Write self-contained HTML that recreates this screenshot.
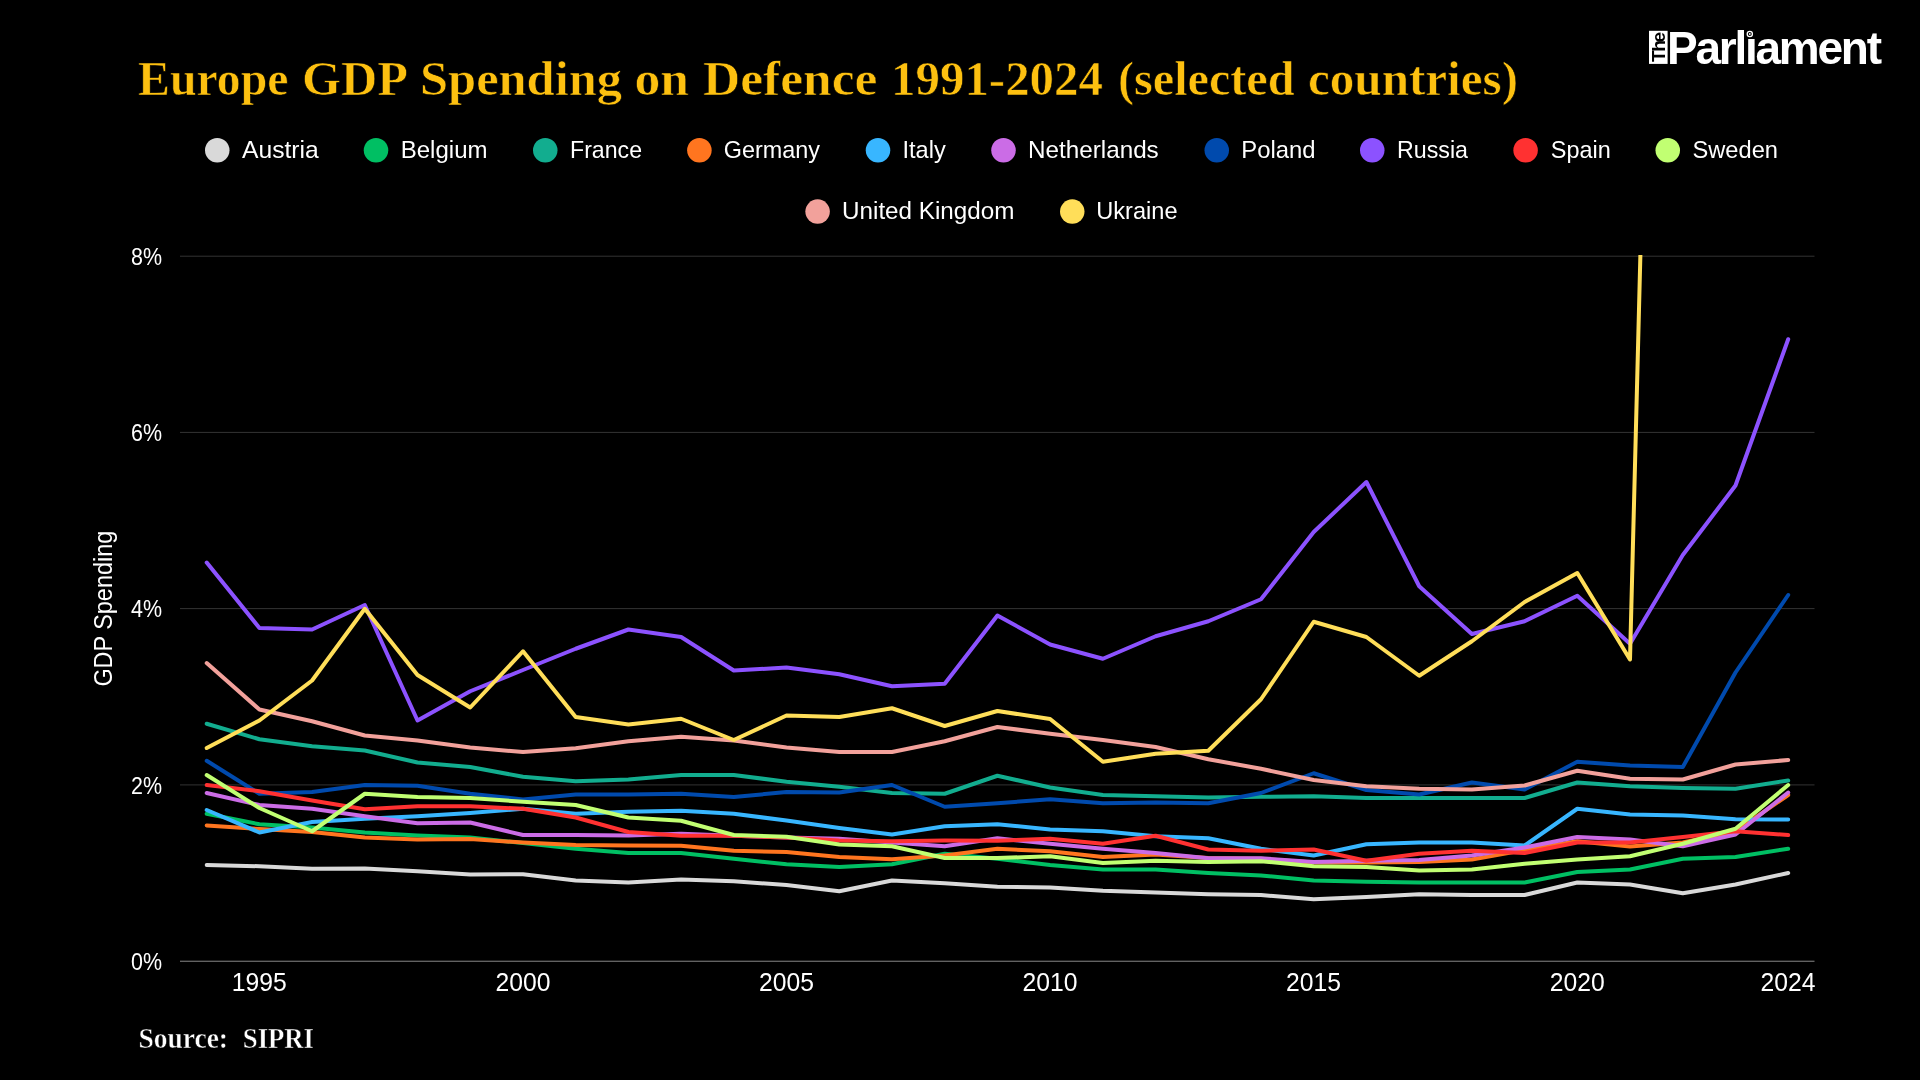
<!DOCTYPE html>
<html lang="en"><head><meta charset="utf-8"><title>Europe GDP Spending on Defence 1991-2024</title>
<style>
html,body{margin:0;padding:0;background:#000;}
body{width:1920px;height:1080px;overflow:hidden;}
svg{display:block;will-change:transform;}
.sans{font-family:"Liberation Sans",sans-serif;fill:#fff;}
.serif{font-family:"Liberation Serif",serif;}
</style></head><body>
<svg width="1920" height="1080" viewBox="0 0 1920 1080">
<defs><clipPath id="plot"><rect x="170" y="255" width="1660" height="720"/></clipPath></defs>
<g class="serif" font-size="47.5" font-weight="bold" fill="#FDC010" stroke="#000" stroke-width="0.6"><text x="138" y="94.6" textLength="150.50" lengthAdjust="spacingAndGlyphs">Europe</text><text x="302" y="94.6" textLength="106.00" lengthAdjust="spacingAndGlyphs">GDP</text><text x="420" y="94.6" textLength="202.00" lengthAdjust="spacingAndGlyphs">Spending</text><text x="634.5" y="94.6" textLength="54.55" lengthAdjust="spacingAndGlyphs">on</text><text x="703" y="94.6" textLength="174.45" lengthAdjust="spacingAndGlyphs">Defence</text><text x="891" y="94.6" textLength="212.00" lengthAdjust="spacingAndGlyphs">1991-2024</text><text x="1118" y="94.6" textLength="176.55" lengthAdjust="spacingAndGlyphs">(selected</text><text x="1308" y="94.6" textLength="210.00" lengthAdjust="spacingAndGlyphs">countries)</text></g>
<g font-family="Liberation Sans, sans-serif" font-weight="bold">
<rect x="1649" y="30.8" width="18.6" height="33.1" fill="#fff"/>
<text transform="translate(1665.2,61.9) rotate(-90)" font-size="19.2" fill="#000" x="0 10.2 19.4">The</text>
<text x="1667" y="63.75" font-size="46" fill="#fff" textLength="215" lengthAdjust="spacing">Parliament</text>
<rect x="1745" y="28" width="10" height="9.5" fill="#000"/>
<circle cx="1749.8" cy="34" r="2.6" fill="none" stroke="#fff" stroke-width="1.3"/>
<circle cx="1749.8" cy="34" r="0.9" fill="#fff"/>
</g>
<circle cx="217.25" cy="150.25" r="12.25" fill="#D9D9D9"/><text class="sans" x="242" y="157.6" font-size="24.6" textLength="76.75" lengthAdjust="spacingAndGlyphs">Austria</text>
<circle cx="376" cy="150.25" r="12.25" fill="#00BF63"/><text class="sans" x="400.75" y="157.6" font-size="24.6" textLength="86.75" lengthAdjust="spacingAndGlyphs">Belgium</text>
<circle cx="545.25" cy="150.25" r="12.25" fill="#12AD8F"/><text class="sans" x="570" y="157.6" font-size="24.6" textLength="72.00" lengthAdjust="spacingAndGlyphs">France</text>
<circle cx="699.4" cy="150.25" r="12.25" fill="#FF751F"/><text class="sans" x="723.75" y="157.6" font-size="24.6" textLength="96.25" lengthAdjust="spacingAndGlyphs">Germany</text>
<circle cx="878" cy="150.25" r="12.25" fill="#38B6FF"/><text class="sans" x="902.5" y="157.6" font-size="24.6" textLength="43.25" lengthAdjust="spacingAndGlyphs">Italy</text>
<circle cx="1003.5" cy="150.25" r="12.25" fill="#CB6CE6"/><text class="sans" x="1028" y="157.6" font-size="24.6" textLength="130.75" lengthAdjust="spacingAndGlyphs">Netherlands</text>
<circle cx="1216.75" cy="150.25" r="12.25" fill="#004AAD"/><text class="sans" x="1241.25" y="157.6" font-size="24.6" textLength="74.25" lengthAdjust="spacingAndGlyphs">Poland</text>
<circle cx="1372.25" cy="150.25" r="12.25" fill="#8C52FF"/><text class="sans" x="1397" y="157.6" font-size="24.6" textLength="71.00" lengthAdjust="spacingAndGlyphs">Russia</text>
<circle cx="1525.6" cy="150.25" r="12.25" fill="#FF3131"/><text class="sans" x="1550.75" y="157.6" font-size="24.6" textLength="60.00" lengthAdjust="spacingAndGlyphs">Spain</text>
<circle cx="1667.75" cy="150.25" r="12.25" fill="#C1FF72"/><text class="sans" x="1692.5" y="157.6" font-size="24.6" textLength="85.50" lengthAdjust="spacingAndGlyphs">Sweden</text>
<circle cx="817.6" cy="211.6" r="12.25" fill="#F2A19B"/><text class="sans" x="842" y="218.9" font-size="24.6" textLength="172.50" lengthAdjust="spacingAndGlyphs">United Kingdom</text>
<circle cx="1072.25" cy="211.6" r="12.25" fill="#FFDE59"/><text class="sans" x="1096.25" y="218.9" font-size="24.6" textLength="81.25" lengthAdjust="spacingAndGlyphs">Ukraine</text>
<rect x="180" y="255.7" width="1634.5" height="1" fill="#333"/><rect x="180" y="431.9" width="1634.5" height="1" fill="#333"/><rect x="180" y="608.1" width="1634.5" height="1" fill="#333"/><rect x="180" y="784.4" width="1634.5" height="1" fill="#333"/><rect x="180" y="960.7" width="1634.5" height="1.1" fill="#7a7a7a"/>
<text class="sans" x="162" y="265.0" font-size="24.6" text-anchor="end" textLength="31" lengthAdjust="spacingAndGlyphs">8%</text><text class="sans" x="162" y="441.2" font-size="24.6" text-anchor="end" textLength="31" lengthAdjust="spacingAndGlyphs">6%</text><text class="sans" x="162" y="617.4" font-size="24.6" text-anchor="end" textLength="31" lengthAdjust="spacingAndGlyphs">4%</text><text class="sans" x="162" y="793.7" font-size="24.6" text-anchor="end" textLength="31" lengthAdjust="spacingAndGlyphs">2%</text><text class="sans" x="162" y="970.0" font-size="24.6" text-anchor="end" textLength="31" lengthAdjust="spacingAndGlyphs">0%</text>
<text class="sans" x="231.8" y="991.4" font-size="25" textLength="55" lengthAdjust="spacingAndGlyphs">1995</text><text class="sans" x="495.4" y="991.4" font-size="25" textLength="55" lengthAdjust="spacingAndGlyphs">2000</text><text class="sans" x="758.9" y="991.4" font-size="25" textLength="55" lengthAdjust="spacingAndGlyphs">2005</text><text class="sans" x="1022.5" y="991.4" font-size="25" textLength="55" lengthAdjust="spacingAndGlyphs">2010</text><text class="sans" x="1286.1" y="991.4" font-size="25" textLength="55" lengthAdjust="spacingAndGlyphs">2015</text><text class="sans" x="1549.7" y="991.4" font-size="25" textLength="55" lengthAdjust="spacingAndGlyphs">2020</text><text class="sans" x="1760.6" y="991.4" font-size="25" textLength="55" lengthAdjust="spacingAndGlyphs">2024</text>
<text class="sans" transform="translate(112.2,686.6) rotate(-90)" font-size="25" textLength="155.8" lengthAdjust="spacingAndGlyphs">GDP Spending</text>
<g clip-path="url(#plot)" fill="none" stroke-linejoin="round" stroke-linecap="round" stroke-width="4">
<polyline stroke="#D9D9D9" points="206.7,865 259.4,866.25 312.1,868.75 364.8,868.5 417.5,871.25 470.2,874.5 523.0,874.25 575.7,880.5 628.4,882.5 681.1,879.5 733.8,881.25 786.5,885 839.3,891.25 892.0,880.5 944.7,883.25 997.4,886.75 1050.1,887.5 1102.9,890.75 1155.6,892.5 1208.3,894.25 1261.0,895 1313.7,899.25 1366.4,897 1419.2,894.25 1471.9,895 1524.6,895 1577.3,882.5 1630.0,884.5 1682.8,893.25 1735.5,884.5 1788.2,873"/>
<polyline stroke="#00BF63" points="206.7,813.75 259.4,824.25 312.1,827.5 364.8,832.5 417.5,835.5 470.2,837.5 523.0,843 575.7,848.75 628.4,853 681.1,853 733.8,858.75 786.5,864.25 839.3,867 892.0,864.25 944.7,853.75 997.4,858.75 1050.1,865 1102.9,869.5 1155.6,869.5 1208.3,873 1261.0,875.5 1313.7,880.5 1366.4,881.75 1419.2,882.5 1471.9,882.5 1524.6,882.5 1577.3,872 1630.0,869.5 1682.8,858.75 1735.5,857 1788.2,848.75"/>
<polyline stroke="#12AD8F" points="206.7,723.75 259.4,739.25 312.1,746.25 364.8,750.5 417.5,762.5 470.2,767 523.0,776.75 575.7,781.25 628.4,779.5 681.1,775 733.8,775 786.5,781.75 839.3,786.75 892.0,793 944.7,793.75 997.4,775.75 1050.1,787.5 1102.9,795 1155.6,796.25 1208.3,797.5 1261.0,796.75 1313.7,796.25 1366.4,798 1419.2,798 1471.9,798 1524.6,798 1577.3,782.5 1630.0,786.25 1682.8,788 1735.5,788.75 1788.2,780.5"/>
<polyline stroke="#FF751F" points="206.7,825.5 259.4,829 312.1,832 364.8,837.5 417.5,839.5 470.2,839 523.0,842.5 575.7,845 628.4,845.5 681.1,845.75 733.8,850.75 786.5,852 839.3,857 892.0,859.25 944.7,855.5 997.4,848.75 1050.1,851.25 1102.9,857 1155.6,854.5 1208.3,858 1261.0,858.75 1313.7,862.5 1366.4,862.5 1419.2,862 1471.9,859.5 1524.6,850 1577.3,841.25 1630.0,846.5 1682.8,842.5 1735.5,831.25 1788.2,795"/>
<polyline stroke="#38B6FF" points="206.7,810 259.4,832.5 312.1,822 364.8,818.75 417.5,816.25 470.2,813 523.0,808.75 575.7,813.75 628.4,811.75 681.1,810.75 733.8,813.75 786.5,820.5 839.3,828 892.0,834.5 944.7,826.25 997.4,824.25 1050.1,829.5 1102.9,831.25 1155.6,836.25 1208.3,838.25 1261.0,848.75 1313.7,855.5 1366.4,844.25 1419.2,842.5 1471.9,842.5 1524.6,845.5 1577.3,808.75 1630.0,814.5 1682.8,815.5 1735.5,819.25 1788.2,819.5"/>
<polyline stroke="#CB6CE6" points="206.7,793 259.4,805 312.1,808.75 364.8,816.25 417.5,823.25 470.2,822.5 523.0,835 575.7,835 628.4,835.5 681.1,833.75 733.8,835.75 786.5,837.5 839.3,838.75 892.0,842.5 944.7,846.25 997.4,838.25 1050.1,843.75 1102.9,848.75 1155.6,853 1208.3,858.25 1261.0,858.25 1313.7,862 1366.4,860.75 1419.2,860 1471.9,855.5 1524.6,847.5 1577.3,837 1630.0,839.5 1682.8,846.25 1735.5,834.5 1788.2,792.5"/>
<polyline stroke="#004AAD" points="206.7,760.75 259.4,793.75 312.1,792 364.8,785 417.5,785.75 470.2,793.75 523.0,799.5 575.7,794.5 628.4,794.5 681.1,793.75 733.8,797 786.5,792 839.3,792.5 892.0,785 944.7,806.75 997.4,803.25 1050.1,799.25 1102.9,803.25 1155.6,802.5 1208.3,803.25 1261.0,793 1313.7,773.25 1366.4,790 1419.2,794.5 1471.9,782.5 1524.6,789.5 1577.3,761.75 1630.0,765.5 1682.8,767 1735.5,672.5 1788.2,595"/>
<polyline stroke="#8C52FF" points="206.7,562.5 259.4,628 312.1,629.5 364.8,605 417.5,720.5 470.2,691.25 523.0,670 575.7,648.75 628.4,629.5 681.1,637 733.8,670.5 786.5,667.5 839.3,674.25 892.0,686.25 944.7,683.75 997.4,615.5 1050.1,644.5 1102.9,658.75 1155.6,636.25 1208.3,621.25 1261.0,599.25 1313.7,532 1366.4,482 1419.2,586.25 1471.9,634 1524.6,621.25 1577.3,595.75 1630.0,643.75 1682.8,555 1735.5,485.5 1788.2,339.25"/>
<polyline stroke="#FF3131" points="206.7,785 259.4,791.25 312.1,800.5 364.8,809.25 417.5,806.25 470.2,806.25 523.0,808.75 575.7,817.5 628.4,832 681.1,835.75 733.8,835.75 786.5,837.5 839.3,840.5 892.0,841.25 944.7,840.5 997.4,840.75 1050.1,838.75 1102.9,843.75 1155.6,835.75 1208.3,849.5 1261.0,850.75 1313.7,849.5 1366.4,860.75 1419.2,853.75 1471.9,850.75 1524.6,853 1577.3,842.5 1630.0,842.5 1682.8,837 1735.5,831.25 1788.2,835"/>
<polyline stroke="#C1FF72" points="206.7,775 259.4,808 312.1,831.25 364.8,793.75 417.5,797 470.2,798 523.0,801.75 575.7,805 628.4,817.5 681.1,820.75 733.8,835 786.5,836.75 839.3,844.5 892.0,846.25 944.7,858 997.4,858 1050.1,856.25 1102.9,863 1155.6,860.75 1208.3,862 1261.0,861.25 1313.7,866.25 1366.4,867 1419.2,870.5 1471.9,869.5 1524.6,863.75 1577.3,859.5 1630.0,856.25 1682.8,843.75 1735.5,828.75 1788.2,785"/>
<polyline stroke="#F2A19B" points="206.7,663 259.4,709.5 312.1,721.25 364.8,735.5 417.5,740.5 470.2,747.5 523.0,752 575.7,748.25 628.4,741.25 681.1,736.75 733.8,740.5 786.5,747.5 839.3,752 892.0,752 944.7,741.25 997.4,727 1050.1,733.75 1102.9,740 1155.6,747 1208.3,759.25 1261.0,768.75 1313.7,780 1366.4,786.25 1419.2,788.75 1471.9,789.5 1524.6,785.5 1577.3,770.75 1630.0,778.75 1682.8,779.5 1735.5,764.5 1788.2,760"/>
<polyline stroke="#FFDE59" points="206.7,748 259.4,720.5 312.1,680.5 364.8,608.75 417.5,675 470.2,707.5 523.0,651.25 575.7,717 628.4,724.5 681.1,718.75 733.8,740 786.5,715.5 839.3,717 892.0,708.25 944.7,726 997.4,711 1050.1,719 1102.9,761.75 1155.6,753.75 1208.3,750.75 1261.0,699.25 1313.7,621.75 1366.4,637 1419.2,675.75 1471.9,641.25 1524.6,602 1577.3,573 1630.0,659.5 1682.8,-1397 1735.5,-2350 1788.2,-2150"/>
</g>
<g class="serif" font-size="28.9" font-weight="bold" fill="#fff" stroke="#000" stroke-width="0.45"><text x="138.5" y="1047.6" textLength="89.5" lengthAdjust="spacingAndGlyphs">Source:</text><text x="242.8" y="1047.6" textLength="71.2" lengthAdjust="spacingAndGlyphs">SIPRI</text></g>
</svg></body></html>
